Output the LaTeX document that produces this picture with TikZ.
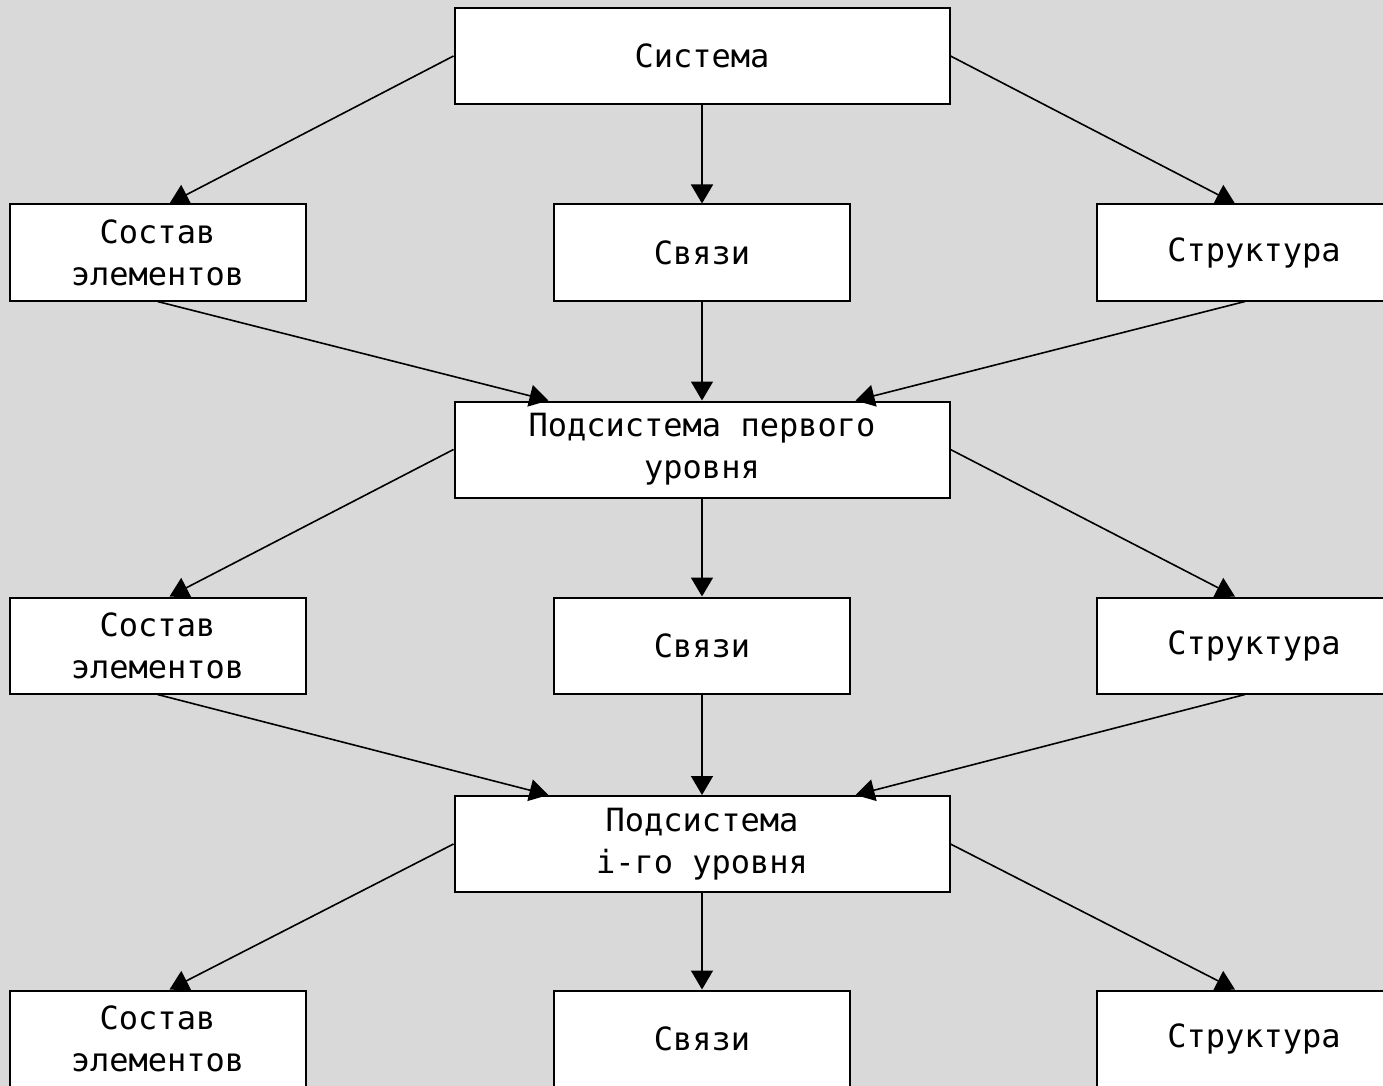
\documentclass[tikz,border=0pt]{standalone}
\usepackage{fontspec}
\newfontfamily\boxfont{DejaVu Sans Mono}
\usetikzlibrary{arrows.meta}
\definecolor{bggray}{RGB}{217,217,217}
\tikzset{
  block/.style={draw, line width=1pt, fill=white, align=center, inner sep=0pt,
    minimum height=48pt, font=\boxfont\fontsize{16}{21}\selectfont},
  wideblock/.style={block, minimum width=247.5pt},
  smallblock/.style={block, minimum width=148pt},
  link/.style={line width=0.8pt, -{Triangle[length=9.5pt,width=11pt]}}
}

\begin{document}
\begin{tikzpicture}[x=0.5pt, y=-0.5pt]
    \fill[bggray] (0,0) rectangle (1383,1086);
    \useasboundingbox (0,0) rectangle (1383,1086);
    \clip (0,0) rectangle (1383,1086);

    \node[wideblock] (sys)  at (702,56)  {Система};
    \node[wideblock] (sub1) at (702,449.5) {Подсистема первого\\уровня};
    \node[wideblock] (sub2) at (702,844) {Подсистема\\i-го уровня};

    % three levels of the same three blocks
    \foreach \r/\y/\top in {1/252.5/sys, 2/645.5/sub1, 3/1038.5/sub2}{
      \node[smallblock] (comp\r)   at (157.5,\y) {Состав\\элементов};
      \node[smallblock] (link\r)   at (702,\y)   {Связи};
      \node[smallblock, minimum width=157pt] (struct\r) at (1254,\y) {Структура};
      \draw[link] (\top.west)  -- ([xshift=6pt]comp\r.north);
      \draw[link] (\top.south) -- (link\r.north);
      \draw[link] (\top.east)  -- ([xshift=-9.5pt]struct\r.north);
    }

    \foreach \r/\next in {1/sub1, 2/sub2}{
      \draw[link] (comp\r.south)   -- ([xshift=47.5pt]\next.north west);
      \draw[link] (link\r.south)   -- (\next.north);
      \draw[link] ([xshift=-4.5pt]struct\r.south) -- ([xshift=-47.5pt]\next.north east);
    }
  \end{tikzpicture}
\end{document}
